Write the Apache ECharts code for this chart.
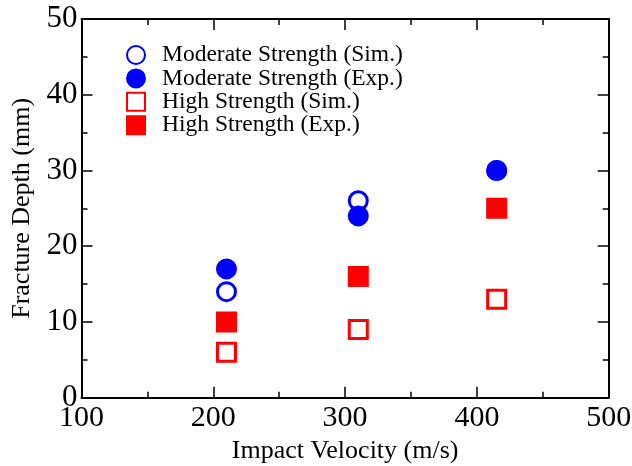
<!DOCTYPE html>
<html lang="en">
<head>
    <meta charset="UTF-8">
    <title>Fracture Depth vs Impact Velocity</title>
    <style>
        html, body { margin: 0; padding: 0; background: #fff; }
        #main { width: 632px; height: 466px; }
    </style>
</head>
<body>
<div id="main"></div>
<script src="https://cdn.jsdelivr.net/npm/echarts@6/dist/echarts.min.js"></script>
<script>
    // impact velocity (m/s)
    var velocities = [210, 310, 415];
    // fracture depth (mm)
    var moderateSim = [14, 26, 30];
    var moderateExp = [17, 24, 30];
    var highSim = [6, 9, 13];
    var highExp = [10, 16, 25];

    var seriesNames = [
        'Moderate Strength (Sim.)',
        'Moderate Strength (Exp.)',
        'High Strength (Sim.)',
        'High Strength (Exp.)'
    ];

    var serif = '"Liberation Serif", "Times New Roman", serif';

    function pairs(ys) {
        var res = [];
        for (var i = 0; i < velocities.length; i++) {
            res.push([velocities[i], ys[i]]);
        }
        return res;
    }

    // open markers: white fill, coloured border; filled markers: same colour border
    function makeSeries(name, ys, symbol, color, filled) {
        return {
            name: name,
            type: 'scatter',
            symbol: symbol,
            symbolSize: 18,
            data: pairs(ys),
            itemStyle: { color: filled ? color : '#ffffff', borderColor: color, borderWidth: 3, opacity: 1 },
            emphasis: { disabled: true }
        };
    }

    // box frame: top/right axes only carry the inward ticks
    function xAxisCfg(pos, showText) {
        return {
            type: 'value', position: pos, min: 100, max: 500, interval: 100,
            axisLine: { show: true, onZero: false, lineStyle: { color: '#000', width: 2 } },
            axisTick: { show: true, inside: true, length: 11, lineStyle: { color: '#000', width: 1.5 } },
            minorTick: { show: true, splitNumber: 2, length: 6, lineStyle: { color: '#000', width: 1.5 } },
            splitLine: { show: false },
            axisLabel: { show: showText, color: '#000', fontFamily: serif, fontSize: 30, margin: 5 },
            name: showText ? 'Impact Velocity (m/s)' : '',
            nameLocation: 'middle', nameGap: 40,
            nameTextStyle: { color: '#000', fontFamily: serif, fontSize: 26 }
        };
    }

    function yAxisCfg(pos, showText) {
        return {
            type: 'value', position: pos, min: 0, max: 50, interval: 10,
            axisLine: { show: true, onZero: false, lineStyle: { color: '#000', width: 2 } },
            axisTick: { show: true, inside: true, length: 11, lineStyle: { color: '#000', width: 1.5 } },
            minorTick: { show: true, splitNumber: 2, length: 6, lineStyle: { color: '#000', width: 1.5 } },
            splitLine: { show: false },
            axisLabel: { show: showText, color: '#000', fontFamily: serif, fontSize: 31, margin: 4 },
            name: showText ? 'Fracture Depth (mm)' : '',
            nameLocation: 'middle', nameGap: 34,
            nameTextStyle: { color: '#000', fontFamily: serif, fontSize: 26 }
        };
    }

    var myChart = echarts.init(document.getElementById('main'));
    myChart.setOption({
        backgroundColor: '#ffffff',
        animation: false,
        grid: { left: 81.5, right: 23.3, top: 19, bottom: 68.3, containLabel: false, outerBoundsMode: 'none' },
        legend: {
            orient: 'vertical', left: 121, top: 38, itemWidth: 18, itemHeight: 18, itemGap: -0.6,
            selectedMode: false, data: seriesNames,
            textStyle: { color: '#000', fontFamily: serif, fontSize: 23.5, padding: [0, 0, 0, 12] }
        },
        xAxis: [xAxisCfg('bottom', true), xAxisCfg('top', false)],
        yAxis: [yAxisCfg('left', true), yAxisCfg('right', false)],
        series: [
            makeSeries(seriesNames[0], moderateSim, 'circle', '#0000ff', false),
            makeSeries(seriesNames[1], moderateExp, 'circle', '#0000ff', true),
            makeSeries(seriesNames[2], highSim, 'rect', '#ff0000', false),
            makeSeries(seriesNames[3], highExp, 'rect', '#ff0000', true)
        ]
    });
</script>
</body>
</html>
